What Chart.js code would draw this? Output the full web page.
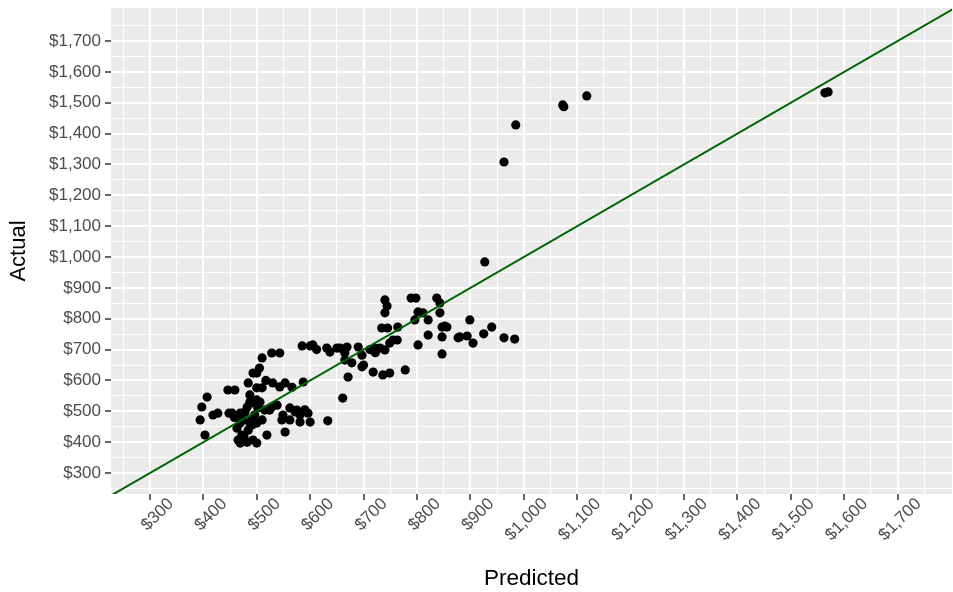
<!DOCTYPE html>
<html>
<head>
<meta charset="utf-8">
<script src="https://cdn.jsdelivr.net/npm/chart.js@4.4.0/dist/chart.umd.min.js"></script>
<style>
  html, body { margin: 0; padding: 0; background: #ffffff; }
  #wrap { width: 953px; height: 592px; }
</style>
</head>
<body>
<div id="wrap"><canvas id="c" width="953" height="592"></canvas></div>
<script>
// Predicted (x) values
const predicted = [
  394, 397, 407, 418, 427, 403, 446, 459, 448, 454, 469, 482, 491, 506, 484, 500,
  510, 500, 510, 493, 524, 469, 487, 500, 474, 472, 465, 469, 493, 500, 482, 519,
  487, 500, 478, 496, 484, 491, 502, 510, 487, 530, 543, 553, 587, 549, 562, 575,
  581, 596, 547, 562, 581, 600, 553, 528, 572, 515, 633, 528, 543, 585, 600, 605,
  631, 637, 650, 656, 665, 669, 690, 697, 678, 697, 671, 665, 661, 718, 736, 749,
  778, 731, 740, 721, 749, 763, 755, 802, 734, 745, 764, 740, 740, 744, 789, 798,
  802, 796, 811, 821, 821, 837, 843, 843, 847, 856, 847, 847, 877, 852, 899, 880,
  894, 905, 925, 940, 963, 983, 927, 963, 985, 1073, 1075, 1118, 1564, 1570,
  463, 476, 490, 505, 458, 538, 517, 566, 590, 612, 700, 712, 722
];
// Actual (y) values
const actual = [
  472, 514, 546, 488, 494, 423, 569, 569, 494, 494, 494, 514, 527, 530, 592, 624,
  673, 576, 576, 624, 504, 462, 462, 462, 472, 423, 407, 397, 407, 397, 400, 423,
  530, 537, 498, 488, 439, 456, 511, 472, 553, 592, 579, 592, 595, 488, 511, 504,
  488, 494, 472, 472, 465, 465, 433, 514, 498, 504, 469, 689, 689, 712, 712, 715,
  705, 692, 705, 705, 689, 708, 708, 682, 657, 644, 611, 666, 543, 627, 618, 624,
  634, 705, 699, 705, 721, 731, 731, 715, 770, 770, 773, 819, 861, 841, 867, 867,
  822, 796, 819, 796, 747, 867, 851, 819, 773, 773, 741, 686, 738, 776, 796, 741,
  744, 721, 751, 773, 738, 734, 984, 1308, 1428, 1493, 1487, 1522, 1532, 1535,
  445, 418, 470, 640, 480, 520, 600, 578, 505, 700, 650, 700, 690
];
// Tick values (major every 100 with labels, minor every 50)
const tickValues = [250, 300, 350, 400, 450, 500, 550, 600, 650, 700, 750, 800, 850, 900, 950,
  1000, 1050, 1100, 1150, 1200, 1250, 1300, 1350, 1400, 1450, 1500, 1550, 1600, 1650, 1700, 1750];
// Reference line y = x
const refLine = [227, 1810];

const points = predicted.map((p, i) => ({ x: p, y: actual[i] }));
const linePts = refLine.map(v => ({ x: v, y: v }));

const fmt = v => '$' + Math.round(v).toLocaleString('en-US');
const isMajor = v => v % 100 === 0;
const FONT = 'Liberation Sans, Arial, sans-serif';

function gridOpts() {
  return {
    color: '#FFFFFF',
    lineWidth: ctx => (ctx.tick && isMajor(ctx.tick.value)) ? 2 : 1,
    tickColor: ctx => (ctx.tick && isMajor(ctx.tick.value)) ? '#333333' : 'rgba(0,0,0,0)',
    tickWidth: ctx => (ctx.tick && isMajor(ctx.tick.value)) ? 1.5 : 0,
    tickLength: 6,
    drawOnChartArea: true
  };
}

const bgPlugin = {
  id: 'panelBg',
  beforeDraw(chart) {
    const { ctx, chartArea: a } = chart;
    ctx.save();
    ctx.fillStyle = '#EBEBEB';
    ctx.fillRect(a.left, a.top, a.right - a.left, a.bottom - a.top);
    ctx.restore();
  }
};

new Chart(document.getElementById('c'), {
  type: 'scatter',
  data: {
    datasets: [
      {
        label: 'Actual vs Predicted',
        data: points,
        backgroundColor: '#000000',
        borderColor: '#000000',
        pointRadius: 4.6,
        pointHoverRadius: 4.6,
        borderWidth: 0,
        order: 2
      },
      {
        type: 'line',
        label: 'y = x',
        data: linePts,
        borderColor: '#006400',
        borderWidth: 2,
        pointRadius: 0,
        fill: false,
        order: 1
      }
    ]
  },
  options: {
    responsive: false,
    animation: false,
    layout: { autoPadding: false, padding: { top: 8, right: 1, left: 0, bottom: 0 } },
    plugins: { legend: { display: false }, tooltip: { enabled: false } },
    scales: {
      x: {
        type: 'linear',
        min: 227,
        max: 1802,
        afterBuildTicks: s => { s.ticks = tickValues.map(v => ({ value: v })); },
        afterFit: s => { s.height = 98; s.paddingRight = 0; s.paddingLeft = 0; },
        border: { display: false },
        grid: gridOpts(),
        ticks: {
          autoSkip: false,
          minRotation: 45,
          maxRotation: 45,
          labelOffset: 21,
          padding: -6,
          color: '#4D4D4D',
          font: { family: FONT, size: 17 },
          callback: v => isMajor(v) ? fmt(v) : ''
        },
        title: {
          display: true,
          text: 'Predicted',
          color: '#000000',
          font: { family: FONT, size: 22.5 },
          padding: { top: 0, bottom: 0 }
        }
      },
      y: {
        type: 'linear',
        min: 232,
        max: 1807,
        afterBuildTicks: s => { s.ticks = tickValues.map(v => ({ value: v })); },
        afterFit: s => { s.width = 111; s.paddingTop = 0; s.paddingBottom = 0; },
        border: { display: false },
        grid: gridOpts(),
        ticks: {
          autoSkip: false,
          padding: 4,
          color: '#4D4D4D',
          font: { family: FONT, size: 17 },
          callback: v => isMajor(v) ? fmt(v) : ''
        },
        title: {
          display: true,
          text: 'Actual',
          color: '#000000',
          font: { family: FONT, size: 22 },
          padding: { top: 6, bottom: 0 }
        }
      }
    }
  },
  plugins: [bgPlugin]
});
</script>
</body>
</html>
